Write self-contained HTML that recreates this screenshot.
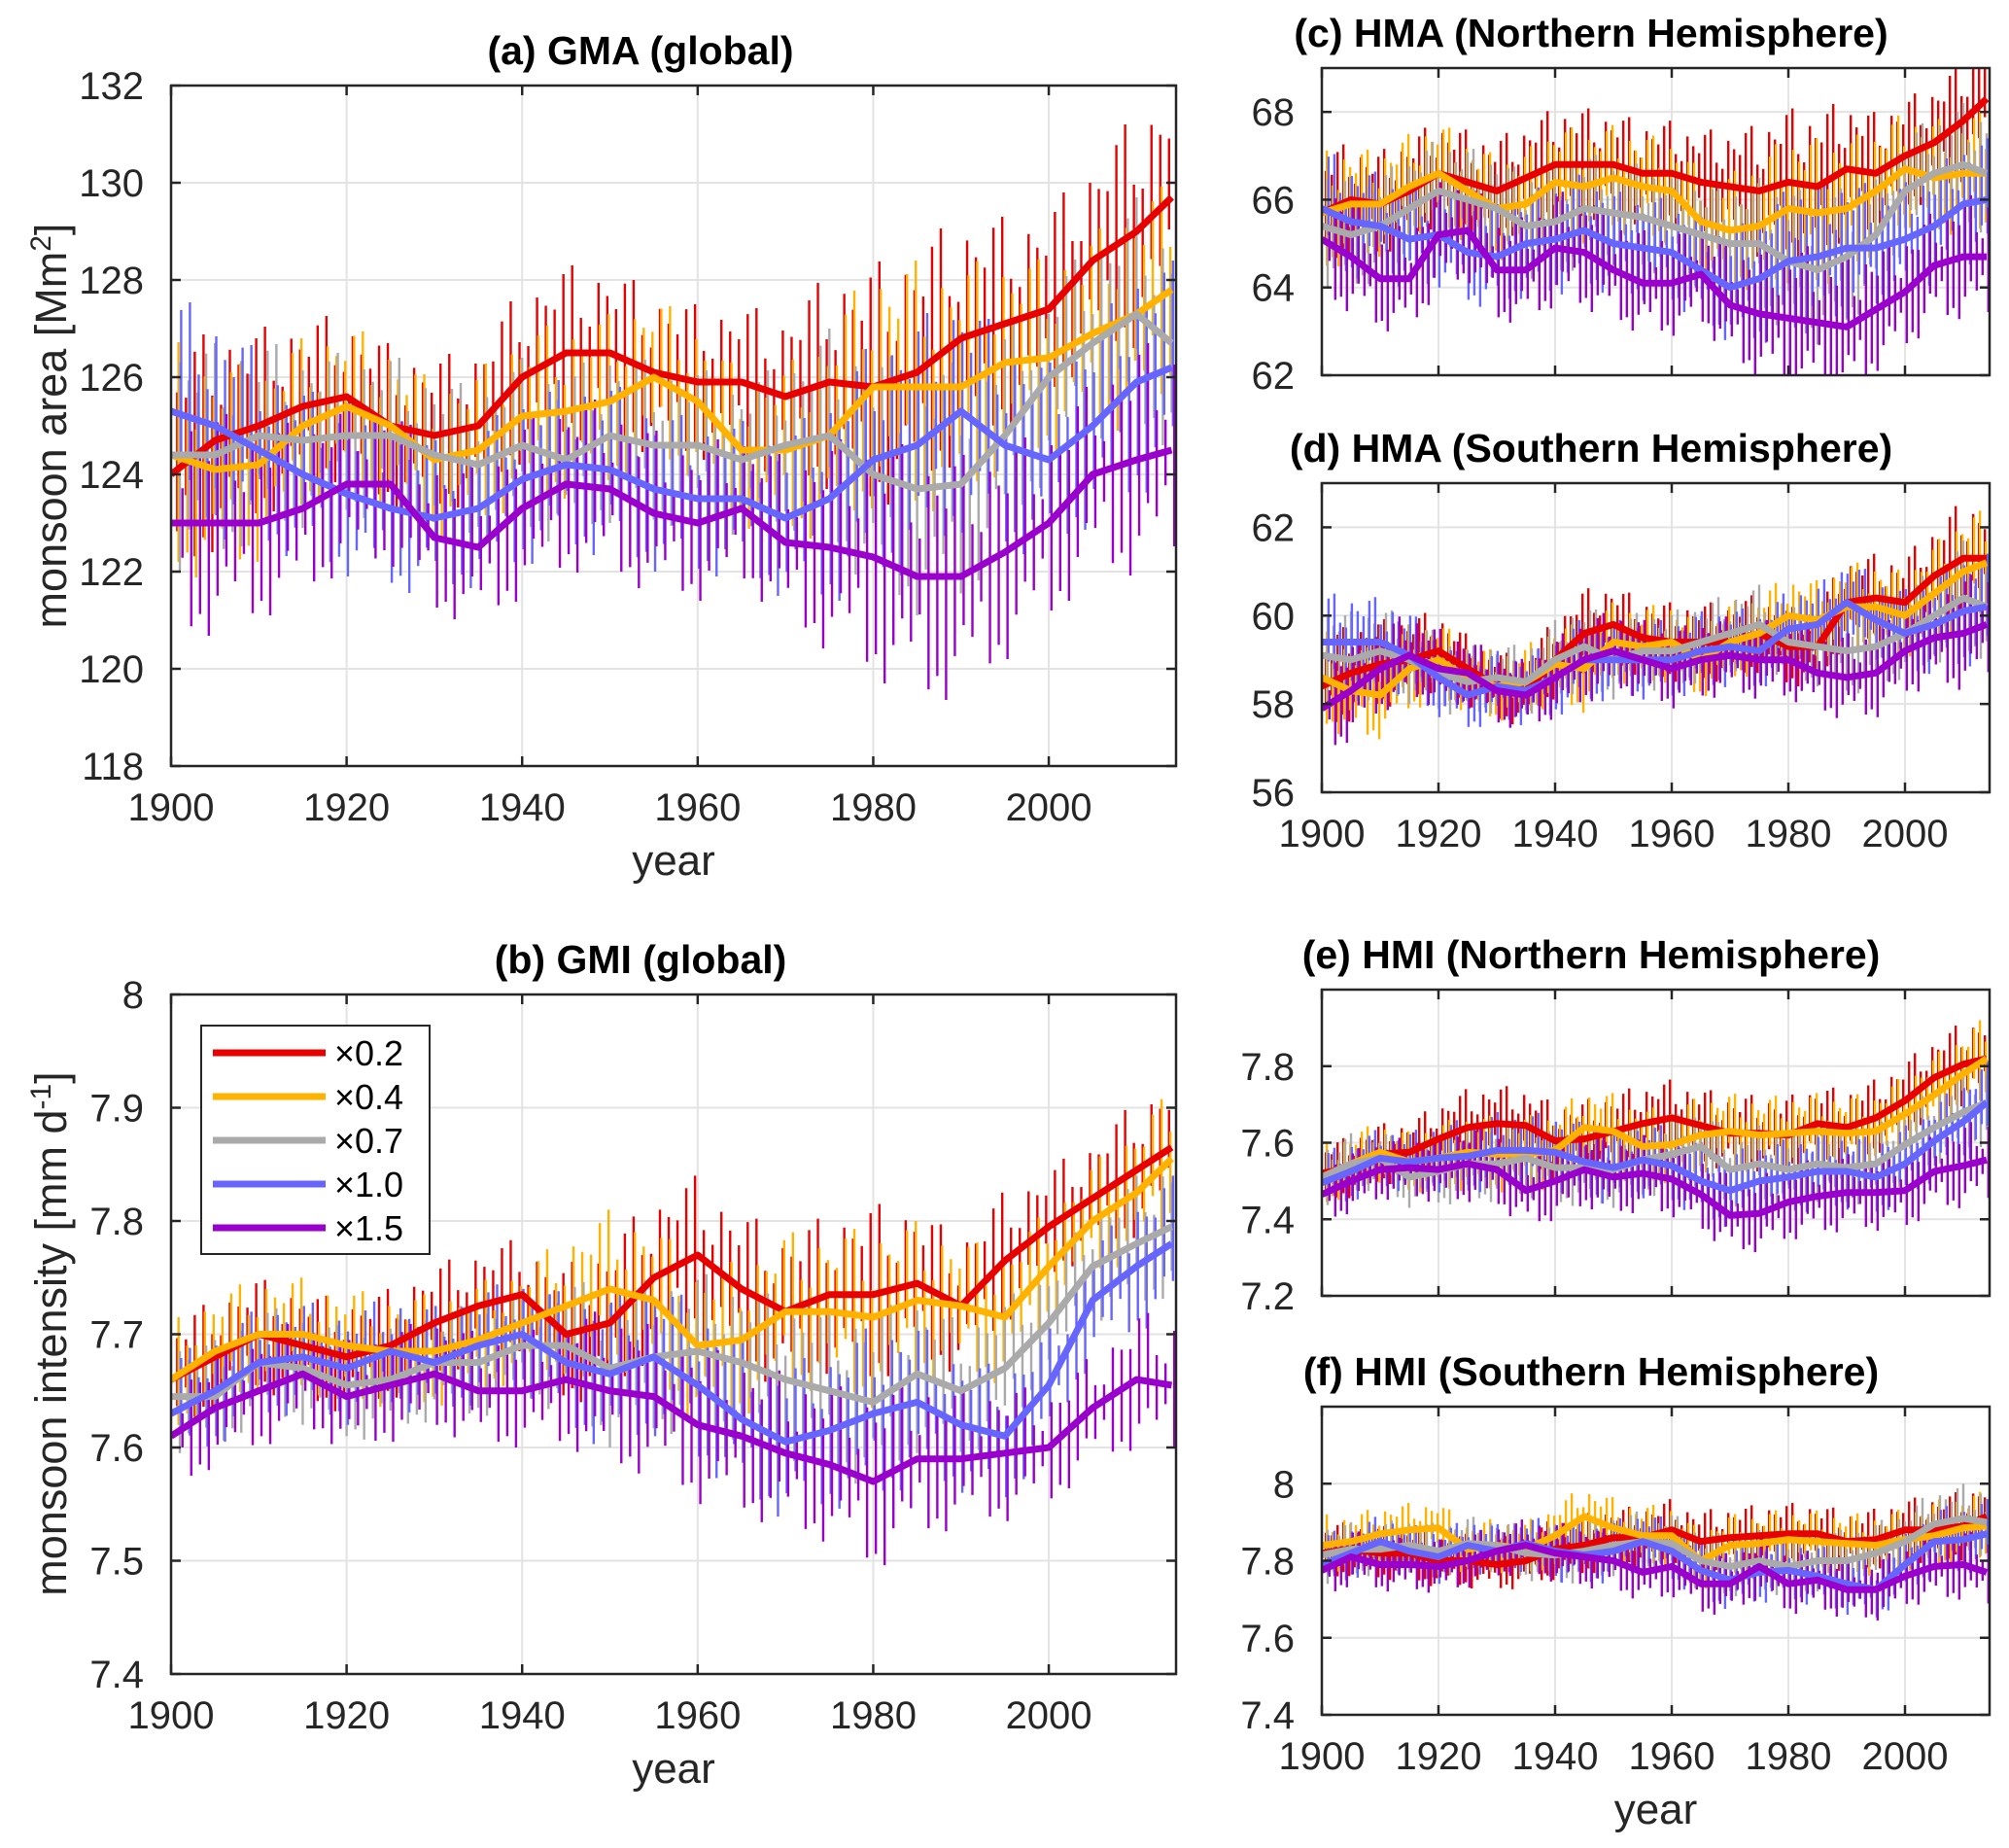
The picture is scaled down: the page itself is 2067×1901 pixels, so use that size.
<!DOCTYPE html>
<html><head><meta charset="utf-8"><style>
html,body{margin:0;padding:0;background:#fff;}
svg{display:block;font-family:"Liberation Sans",Arial,sans-serif;}
</style></head><body>
<svg id="fig" width="2067" height="1901" viewBox="0 0 2067 1901" xmlns="http://www.w3.org/2000/svg"></svg>
<script>
// knot years (5-year resolution)
const years = [1900,1905,1910,1915,1920,1925,1930,1935,1940,1945,1950,1955,1960,1965,1970,1975,1980,1985,1990,1995,2000,2005,2010,2014];
const seriesLabels = ["\u00d70.2","\u00d70.4","\u00d70.7","\u00d71.0","\u00d71.5"];
const xTicks = [1900,1920,1940,1960,1980,2000];

// (a) GMA
const gmaRed    = [124.0,124.7,125.0,125.4,125.6,125.0,124.8,125.0,126.0,126.5,126.5,126.1,125.9,125.9,125.6,125.9,125.8,126.1,126.8,127.1,127.4,128.4,129.0,129.7];
const gmaYellow = [124.4,124.1,124.2,125.0,125.4,125.0,124.3,124.5,125.2,125.3,125.5,126.0,125.5,124.5,124.5,124.8,125.8,125.8,125.8,126.3,126.4,126.9,127.3,127.8];
const gmaGrey   = [124.4,124.4,124.8,124.7,124.8,124.8,124.4,124.2,124.6,124.3,124.8,124.6,124.6,124.3,124.6,124.8,124.0,123.7,123.8,124.8,126.0,126.7,127.3,126.7];
const gmaBlue   = [125.3,125.0,124.5,124.0,123.6,123.3,123.1,123.3,123.9,124.2,124.1,123.7,123.5,123.5,123.1,123.5,124.3,124.6,125.3,124.6,124.3,125.0,125.9,126.2];
const gmaPurple = [123.0,123.0,123.0,123.3,123.8,123.8,122.7,122.5,123.3,123.8,123.7,123.2,123.0,123.3,122.6,122.5,122.3,121.9,121.9,122.4,123.0,124.0,124.3,124.5];
const gmaSpread = [2.4,2.3,2.0,1.8,1.7,1.7,1.6,1.6,1.8,1.8,1.8,1.7,1.6,1.6,1.7,2.2,2.5,2.6,2.5,2.2,2.0,2.0,2.4,2.2];
const gmaTicks  = [118,120,122,124,126,128,130,132];

// (b) GMI
const gmiRed    = [7.66,7.68,7.70,7.69,7.68,7.69,7.71,7.725,7.735,7.70,7.71,7.75,7.77,7.74,7.72,7.735,7.735,7.745,7.725,7.765,7.795,7.82,7.845,7.865];
const gmiYellow = [7.66,7.685,7.70,7.70,7.69,7.685,7.685,7.695,7.71,7.725,7.74,7.73,7.69,7.695,7.72,7.72,7.715,7.73,7.725,7.715,7.76,7.80,7.825,7.855];
const gmiGrey   = [7.645,7.645,7.675,7.67,7.655,7.66,7.675,7.675,7.69,7.69,7.67,7.68,7.685,7.675,7.66,7.65,7.64,7.665,7.65,7.67,7.71,7.76,7.78,7.795];
const gmiBlue   = [7.63,7.65,7.675,7.68,7.67,7.685,7.675,7.69,7.70,7.675,7.665,7.68,7.655,7.625,7.605,7.615,7.63,7.64,7.62,7.61,7.655,7.73,7.76,7.78];
const gmiPurple = [7.61,7.635,7.65,7.665,7.645,7.655,7.665,7.65,7.65,7.66,7.65,7.645,7.62,7.61,7.595,7.585,7.57,7.59,7.59,7.595,7.60,7.635,7.66,7.655];
const gmiSpread = [0.05,0.05,0.05,0.05,0.05,0.05,0.05,0.05,0.05,0.06,0.07,0.07,0.07,0.07,0.07,0.07,0.08,0.07,0.06,0.06,0.05,0.05,0.06,0.06];
const gmiTicks  = [7.4,7.5,7.6,7.7,7.8,7.9,8];

// (c) HMA NH
const hmaNRed    = [65.7,66.0,65.9,66.2,66.6,66.4,66.2,66.5,66.8,66.8,66.8,66.6,66.6,66.4,66.3,66.2,66.4,66.3,66.7,66.6,67.0,67.3,67.8,68.3];
const hmaNYellow = [65.7,65.9,65.9,66.3,66.6,66.2,65.8,65.9,66.4,66.3,66.5,66.3,66.2,65.5,65.3,65.4,65.8,65.7,65.8,66.2,66.7,66.5,66.6,66.6];
const hmaNGrey   = [65.4,65.2,65.4,65.8,66.2,66.0,65.8,65.4,65.5,65.8,65.7,65.6,65.4,65.2,65.0,65.0,64.6,64.4,64.7,65.2,66.2,66.6,66.8,66.6];
const hmaNBlue   = [65.8,65.5,65.4,65.1,65.2,64.8,64.7,65.0,65.1,65.3,65.0,64.9,64.8,64.4,64.0,64.2,64.6,64.7,64.9,64.9,65.1,65.4,65.9,66.0];
const hmaNPurple = [65.1,64.7,64.2,64.2,65.2,65.3,64.4,64.4,64.9,64.8,64.4,64.1,64.1,64.3,63.6,63.4,63.3,63.2,63.1,63.5,63.9,64.5,64.7,64.7];
const hmaNSpread = [1.4,1.3,1.2,1.2,1.2,1.2,1.2,1.2,1.3,1.3,1.2,1.2,1.2,1.2,1.3,1.5,1.7,1.7,1.6,1.4,1.3,1.3,1.4,1.4];
const hmaNTicks  = [62,64,66,68];

// (d) HMA SH
const hmaSRed    = [58.4,58.7,58.9,59.0,59.2,58.8,58.4,58.3,59.0,59.6,59.8,59.5,59.4,59.4,59.4,59.6,59.3,59.3,60.3,60.4,60.3,60.9,61.3,61.3];
const hmaSYellow = [58.6,58.3,58.2,58.8,59.0,58.6,58.4,58.5,58.9,58.8,59.4,59.3,59.4,59.0,59.4,59.6,60.0,59.9,60.2,60.2,60.0,60.5,61.0,61.2];
const hmaSGrey   = [59.1,59.0,59.2,59.0,58.7,58.5,58.6,58.5,59.0,59.3,59.0,59.2,59.2,59.4,59.6,59.8,59.4,59.3,59.2,59.3,59.6,60.0,60.4,60.2];
const hmaSBlue   = [59.4,59.4,59.4,59.1,58.6,58.2,58.4,58.3,58.6,59.0,59.0,59.0,59.0,59.2,59.3,59.2,59.7,59.8,60.3,59.9,59.6,59.8,60.1,60.2];
const hmaSPurple = [57.9,58.3,58.8,59.1,58.8,58.7,58.3,58.2,58.6,59.0,59.2,59.0,58.8,59.0,59.1,59.0,59.0,58.7,58.6,58.7,59.2,59.5,59.6,59.8];
const hmaSSpread = [1.1,1.1,1.0,1.0,0.9,0.8,0.8,0.8,0.9,1.0,0.9,0.9,0.9,0.9,0.9,0.9,0.9,0.9,1.0,1.0,1.0,1.1,1.3,1.2];
const hmaSTicks  = [56,58,60,62];

// (e) HMI NH
const hmiNRed    = [7.52,7.535,7.57,7.575,7.61,7.64,7.65,7.645,7.605,7.61,7.63,7.65,7.665,7.645,7.625,7.625,7.62,7.65,7.64,7.665,7.71,7.77,7.805,7.82];
const hmiNYellow = [7.51,7.545,7.575,7.55,7.56,7.575,7.57,7.57,7.58,7.64,7.63,7.59,7.595,7.62,7.63,7.62,7.625,7.63,7.625,7.63,7.675,7.725,7.78,7.82];
const hmiNGrey   = [7.51,7.545,7.56,7.51,7.525,7.545,7.545,7.56,7.535,7.535,7.53,7.555,7.57,7.59,7.53,7.545,7.53,7.545,7.535,7.545,7.595,7.64,7.68,7.705];
const hmiNBlue   = [7.495,7.525,7.56,7.55,7.56,7.565,7.58,7.58,7.575,7.55,7.535,7.555,7.54,7.50,7.475,7.50,7.51,7.525,7.525,7.51,7.545,7.605,7.655,7.705];
const hmiNPurple = [7.465,7.50,7.53,7.535,7.53,7.545,7.53,7.475,7.50,7.53,7.51,7.52,7.505,7.465,7.41,7.415,7.445,7.46,7.47,7.47,7.475,7.525,7.54,7.555];
const hmiNSpread = [0.08,0.08,0.08,0.08,0.09,0.10,0.10,0.10,0.10,0.10,0.10,0.10,0.10,0.10,0.10,0.10,0.10,0.10,0.10,0.10,0.10,0.10,0.11,0.11];
const hmiNTicks  = [7.2,7.4,7.6,7.8];

// (f) HMI SH
const hmiSRed    = [7.82,7.83,7.82,7.82,7.80,7.80,7.79,7.80,7.83,7.84,7.86,7.86,7.88,7.85,7.86,7.865,7.87,7.87,7.85,7.855,7.88,7.88,7.89,7.915];
const hmiSYellow = [7.84,7.85,7.87,7.88,7.885,7.83,7.84,7.83,7.865,7.915,7.885,7.865,7.865,7.80,7.84,7.845,7.855,7.85,7.845,7.84,7.855,7.865,7.885,7.89];
const hmiSGrey   = [7.815,7.83,7.83,7.84,7.825,7.845,7.84,7.82,7.815,7.825,7.84,7.85,7.845,7.80,7.785,7.80,7.785,7.80,7.80,7.82,7.85,7.895,7.91,7.90];
const hmiSBlue   = [7.79,7.82,7.85,7.825,7.81,7.84,7.825,7.845,7.825,7.815,7.825,7.85,7.825,7.775,7.75,7.77,7.775,7.76,7.74,7.725,7.79,7.85,7.855,7.87];
const hmiSPurple = [7.775,7.81,7.79,7.79,7.785,7.80,7.825,7.84,7.82,7.81,7.80,7.77,7.785,7.74,7.74,7.785,7.74,7.75,7.725,7.725,7.76,7.785,7.79,7.77];
const hmiSSpread = [0.08,0.07,0.07,0.07,0.07,0.07,0.07,0.07,0.08,0.08,0.08,0.08,0.08,0.08,0.08,0.08,0.08,0.08,0.08,0.08,0.08,0.09,0.09,0.09];
const hmiSTicks  = [7.4,7.6,7.8,8];

const colors = ["#e60000","#ffb300","#aaaaaa","#6666ff","#9900cc"];
const names = ["red","yellow","grey","blue","purple"];
const NS = "http://www.w3.org/2000/svg";
const svg = document.getElementById("fig");

function mk(tag, attrs, parent){
  const e = document.createElementNS(NS, tag);
  for (const k in attrs) e.setAttribute(k, attrs[k]);
  (parent||svg).appendChild(e);
  return e;
}
function interp(arr, yr){
  if (yr <= years[0]) return arr[0];
  for (let i=0;i<years.length-1;i++){
    if (yr <= years[i+1]){
      const t = (yr-years[i])/(years[i+1]-years[i]);
      return arr[i] + t*(arr[i+1]-arr[i]);
    }
  }
  return arr[arr.length-1];
}

const panels = [
  {id:"gma", title:"(a) GMA (global)", tx:659, L:176, R:1210, T:88, B:788, ymin:118, ymax:132, ticks:gmaTicks, series:[gmaRed,gmaYellow,gmaGrey,gmaBlue,gmaPurple], spread:gmaSpread, xlabels:true, yearLabel:true},
  {id:"gmi", title:"(b) GMI (global)", tx:659, L:176, R:1210, T:1023, B:1722, ymin:7.4, ymax:8.0, ticks:gmiTicks, series:[gmiRed,gmiYellow,gmiGrey,gmiBlue,gmiPurple], spread:gmiSpread, xlabels:true, yearLabel:true, legend:true},
  {id:"hma-nh", title:"(c) HMA (Northern Hemisphere)", tx:1637, L:1360, R:2047, T:70, B:386, ymin:62, ymax:69, ticks:hmaNTicks, series:[hmaNRed,hmaNYellow,hmaNGrey,hmaNBlue,hmaNPurple], spread:hmaNSpread, xlabels:false},
  {id:"hma-sh", title:"(d) HMA (Southern Hemisphere)", tx:1637, L:1360, R:2047, T:497, B:815, ymin:56, ymax:63, ticks:hmaSTicks, series:[hmaSRed,hmaSYellow,hmaSGrey,hmaSBlue,hmaSPurple], spread:hmaSSpread, xlabels:true},
  {id:"hmi-nh", title:"(e) HMI (Northern Hemisphere)", tx:1637, L:1360, R:2047, T:1018, B:1333, ymin:7.2, ymax:8.0, ticks:hmiNTicks, series:[hmiNRed,hmiNYellow,hmiNGrey,hmiNBlue,hmiNPurple], spread:hmiNSpread, xlabels:false},
  {id:"hmi-sh", title:"(f) HMI (Southern Hemisphere)", tx:1637, L:1360, R:2047, T:1447, B:1764, ymin:7.4, ymax:8.2, ticks:hmiSTicks, series:[hmiSRed,hmiSYellow,hmiSGrey,hmiSBlue,hmiSPurple], spread:hmiSSpread, xlabels:true, yearLabel:true}
];
const XMIN = 1900, XMAX = 2014.5;
const spikePattern = [1.0,0.55,0.8,0.4,0.9,0.65,0.3];

panels.forEach(p=>{
  const g = mk("g", {});
  
  
  const xs = v => p.L + (v-XMIN)/(XMAX-XMIN)*(p.R-p.L);
  const ys = v => p.B - (v-p.ymin)/(p.ymax-p.ymin)*(p.B-p.T);
  const clip = mk("clipPath", {id:"clip-"+p.id}, g);
  mk("rect", {x:p.L, y:p.T, width:p.R-p.L, height:p.B-p.T}, clip);
  xTicks.forEach(t=>{
    const l = mk("line", {x1:xs(t), x2:xs(t), y1:p.T, y2:p.B, stroke:"#e3e3e3", "stroke-width":2}, g);
    
    
  });
  p.ticks.forEach(t=>{
    const l = mk("line", {x1:p.L, x2:p.R, y1:ys(t), y2:ys(t), stroke:"#e3e3e3", "stroke-width":2}, g);
    
    
  });
  const plot = mk("g", {"clip-path":"url(#clip-"+p.id+")"}, g);
  p.series.forEach((arr, s)=>{
    const sg = mk("g", {stroke:colors[s], "stroke-width":2.4}, plot);
    
    
    for (let yr=1901; yr<=2014; yr++){
      const v = interp(arr, yr), sp = interp(p.spread, yr);
      const a = spikePattern[(yr*3 + s*2) % spikePattern.length];
      const b = spikePattern[(yr*5 + s*3 + 2) % spikePattern.length];
      const x = xs(yr + (s-2)*0.15);
      mk("line", {x1:x, x2:x, y1:ys(v + sp*a), y2:ys(v - sp*b)}, sg);
    }
  });
  p.series.forEach((arr, s)=>{
    const pts = years.map((yr,i)=> xs(yr).toFixed(1)+","+ys(arr[i]).toFixed(1)).join(" ");
    const pl = mk("polyline", {points:pts, fill:"none", stroke:colors[s], "stroke-width":7, "stroke-linejoin":"round"}, plot);
    
    
  });
  const box = mk("rect", {x:p.L, y:p.T, width:p.R-p.L, height:p.B-p.T, fill:"none", stroke:"#262626", "stroke-width":2.5}, g);
  
  
  xTicks.forEach(t=>{
    mk("line", {x1:xs(t), x2:xs(t), y1:p.B, y2:p.B-10, stroke:"#262626", "stroke-width":2.5}, g);
    mk("line", {x1:xs(t), x2:xs(t), y1:p.T, y2:p.T+10, stroke:"#262626", "stroke-width":2.5}, g);
    if (p.xlabels){
      const tx = mk("text", {x:xs(t), y:p.B+56, "text-anchor":"middle", "font-size":40, fill:"#262626"}, g);
      tx.textContent = t;
      
      
    }
  });
  p.ticks.forEach(t=>{
    mk("line", {x1:p.L, x2:p.L+10, y1:ys(t), y2:ys(t), stroke:"#262626", "stroke-width":2.5}, g);
    mk("line", {x1:p.R, x2:p.R-10, y1:ys(t), y2:ys(t), stroke:"#262626", "stroke-width":2.5}, g);
    const ty = mk("text", {x:p.L-28, y:ys(t)+14, "text-anchor":"end", "font-size":40, fill:"#262626"}, g);
    ty.textContent = String(t);
    
    
  });
  const tt = mk("text", {x:p.tx, y:p.T-22, "text-anchor":"middle", "font-size":41, "font-weight":"bold", fill:"#000"}, g);
  tt.textContent = p.title;
  
  
  if (p.yearLabel){
    const yl = mk("text", {x:(p.L+p.R)/2, y:p.B+112, "text-anchor":"middle", "font-size":44, fill:"#262626"}, g);
    yl.textContent = "year";
    
    
  }
  if (p.legend){
    const lg = mk("g", {}, g);
    
    
    mk("rect", {x:207, y:1055, width:235, height:235, fill:"#fff", stroke:"#262626", "stroke-width":2}, lg);
    seriesLabels.forEach((lab, s)=>{
      const yy = 1083 + s*45;
      const le = mk("g", {}, lg);
      
      
      mk("line", {x1:219, x2:335, y1:yy, y2:yy, stroke:colors[s], "stroke-width":7}, le);
      const lt = mk("text", {x:344, y:yy+13, "font-size":36, fill:"#000"}, le);
      lt.textContent = lab;
    });
  }
});
const ya = mk("text", {x:0, y:0, "text-anchor":"middle", "font-size":45, fill:"#262626", transform:"translate(68,438) rotate(-90)"});


ya.innerHTML = 'monsoon area [Mm<tspan dy="-16" font-size="30">2</tspan><tspan dy="16">]</tspan>';
const yb = mk("text", {x:0, y:0, "text-anchor":"middle", "font-size":45, fill:"#262626", transform:"translate(68,1372) rotate(-90)"});


yb.innerHTML = 'monsoon intensity [mm d<tspan dy="-16" font-size="30">-1</tspan><tspan dy="16">]</tspan>';
</script>
</body></html>
